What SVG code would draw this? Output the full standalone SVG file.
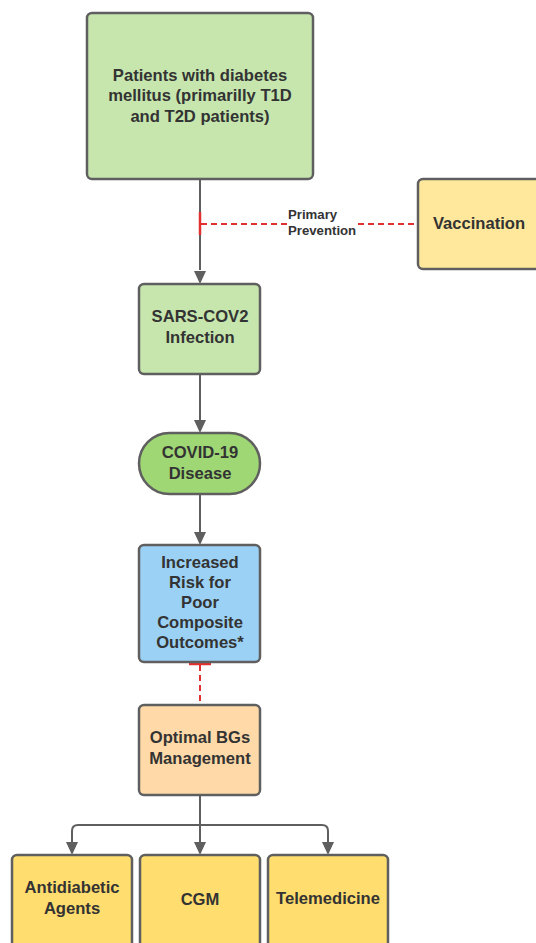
<svg xmlns="http://www.w3.org/2000/svg" width="536" height="943" viewBox="0 0 536 943">
<defs>
<style>
.box{stroke:#5f5f5f;stroke-width:2.5}
.t{font-family:"Liberation Sans",Arial,sans-serif;font-weight:bold;font-size:16.6px;fill:#333;text-anchor:middle}
.lbl{font-family:"Liberation Sans",Arial,sans-serif;font-weight:bold;font-size:13.2px;fill:#333}
.con{stroke:#5f5f5f;stroke-width:2;fill:none}
.red{stroke:#e03030;stroke-width:2;fill:none;stroke-dasharray:6,4}
</style>
</defs>
<rect width="536" height="943" fill="#ffffff"/>
<g id="connectors">
<path class="con" d="M200,180 V270"/>
<path d="M194,271 L206,271 L200,284 Z" fill="#5f5f5f"/>
<path class="con" d="M200,375 V420"/>
<path d="M194,420 L206,420 L200,433 Z" fill="#5f5f5f"/>
<path class="con" d="M200,495 V532"/>
<path d="M194,532 L206,532 L200,545 Z" fill="#5f5f5f"/>
<path d="M200,212 V235" stroke="#e03030" stroke-width="2.5"/>
<path class="red" d="M201,224 H287"/>
<path class="red" d="M358,224 H418"/>
<text class="lbl" x="288" y="219">Primary</text>
<text class="lbl" x="288" y="235">Prevention</text>
<path d="M189,664 H211" stroke="#e03030" stroke-width="2.5"/>
<path class="red" d="M200,665 V705"/>
<path class="con" d="M200,796 V842"/>
<path class="con" d="M72,842 V831 Q72,825 78,825 H322 Q328,825 328,831 V842"/>
<path d="M194,842 L206,842 L200,855 Z" fill="#5f5f5f"/>
<path d="M66,842 L78,842 L72,855 Z" fill="#5f5f5f"/>
<path d="M322,842 L334,842 L328,855 Z" fill="#5f5f5f"/>
</g>
<g id="patients">
<rect class="box" x="87" y="13" width="226" height="166" rx="5" fill="#c6e6ae"/>
<text class="t" x="200" y="81">Patients with diabetes</text>
<text class="t" x="200" y="101">mellitus (primarilly T1D</text>
<text class="t" x="200" y="122">and T2D patients)</text>
</g>
<g id="vaccination">
<rect class="box" x="418" y="179" width="130" height="90" rx="5" fill="#ffe89b"/>
<text class="t" x="479" y="229">Vaccination</text>
</g>
<g id="sars">
<rect class="box" x="139" y="284" width="121" height="90" rx="5" fill="#c6e6ae"/>
<text class="t" x="200" y="322">SARS-COV2</text>
<text class="t" x="200" y="343">Infection</text>
</g>
<g id="covid">
<rect class="box" x="139" y="433" width="121" height="61" rx="30.5" fill="#9fd775"/>
<text class="t" x="200" y="458">COVID-19</text>
<text class="t" x="200" y="479">Disease</text>
</g>
<g id="risk">
<rect class="box" x="139" y="545" width="121" height="117" rx="5" fill="#9bd1f4"/>
<text class="t" x="200" y="568">Increased</text>
<text class="t" x="200" y="588">Risk for</text>
<text class="t" x="200" y="608">Poor</text>
<text class="t" x="200" y="628">Composite</text>
<text class="t" x="200" y="648">Outcomes*</text>
</g>
<g id="optimal">
<rect class="box" x="139" y="705" width="121" height="90" rx="5" fill="#ffdaa8"/>
<text class="t" x="200" y="743">Optimal BGs</text>
<text class="t" x="200" y="764">Management</text>
</g>
<g id="antidiabetic">
<rect class="box" x="12" y="855" width="120" height="100" rx="5" fill="#ffdd6e"/>
<text class="t" x="72" y="893">Antidiabetic</text>
<text class="t" x="72" y="914">Agents</text>
</g>
<g id="cgm">
<rect class="box" x="140" y="855" width="120" height="100" rx="5" fill="#ffdd6e"/>
<text class="t" x="200" y="905">CGM</text>
</g>
<g id="telemedicine">
<rect class="box" x="268" y="855" width="120" height="100" rx="5" fill="#ffdd6e"/>
<text class="t" x="328" y="904">Telemedicine</text>
</g>
</svg>
